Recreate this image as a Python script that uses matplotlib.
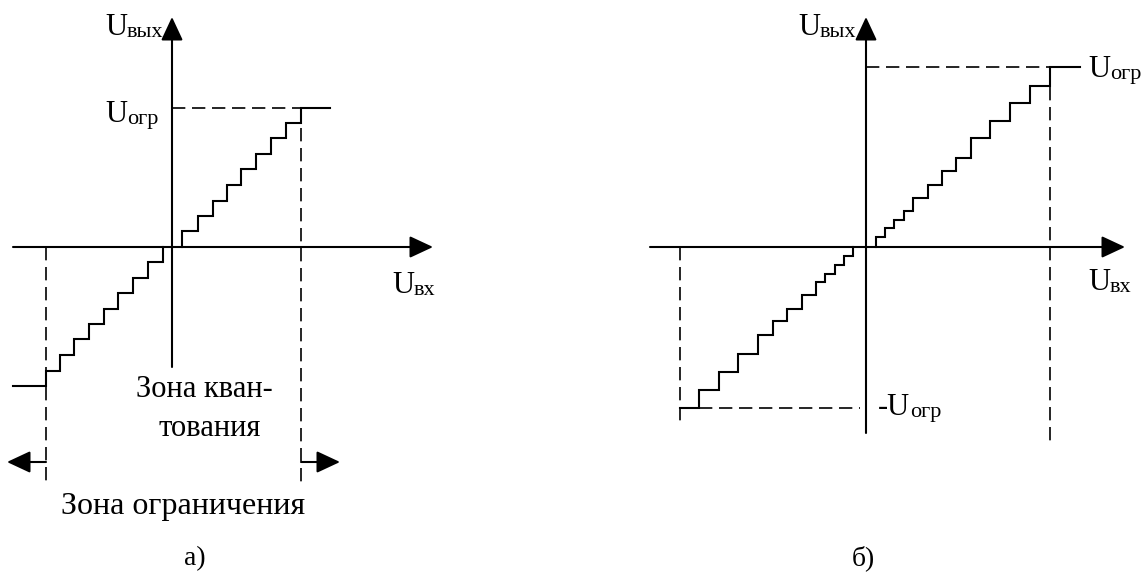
import matplotlib
matplotlib.use("Agg")
import matplotlib.pyplot as plt

plt.rcParams['font.family'] = ['Liberation Serif', 'DejaVu Serif']

# Quantiser transfer characteristics, units measured from the axes crossing.
# (а) uniform steps
a_pos_thresholds = [10, 26, 41, 55, 69, 84, 99, 114, 129]
a_pos_levels = [16, 31, 46, 62, 78, 93, 109, 124, 139]
a_neg_thresholds = [-9, -24, -39, -54, -68, -83, -98, -112, -126]
a_neg_levels = [-15, -31, -46, -62, -77, -92, -108, -124, -139]
a_sat_x = (158, -159)

# (б) non-uniform steps, fine near zero
b_pos_thresholds = [10, 19, 28, 38, 47, 62, 76, 90, 105, 124, 144, 164, 184]
b_pos_levels = [10, 19, 27, 36, 49, 62, 76, 89, 109, 126, 144, 161, 180]
b_neg_thresholds = [-13, -22, -31, -41, -50, -64, -79, -93, -108, -128, -147, -167]
b_neg_levels = [-9, -18, -27, -35, -48, -62, -74, -88, -107, -125, -143, -161]
b_sat_x = (214, -186)

LW = 1.5
DASH = dict(color='black', lw=1.2, linestyle=(0, (8, 4)))
HEAD = '-|>,head_length=0.9,head_width=0.42'


def staircase(thresholds, levels, x_end):
    xs, ys = [], []
    prev = 0
    for t, lv in zip(thresholds, levels):
        xs += [t, t]
        ys += [prev, lv]
        prev = lv
    xs.append(x_end)
    ys.append(prev)
    return xs, ys


def arrow(ax, start, tip):
    ax.annotate('', xy=tip, xytext=start,
                arrowprops=dict(arrowstyle=HEAD, mutation_scale=16, lw=LW,
                                color='black', shrinkA=0, shrinkB=0))


def sublabel(ax, x, y, main, sub, size=22, subsize=16):
    t = ax.text(x, y, main, fontsize=size, ha='left', va='baseline')
    ax.annotate(sub, xy=(1, 0), xycoords=t, fontsize=subsize,
                ha='left', va='bottom')


fig = plt.figure(figsize=(11.41, 5.76), dpi=100)
W, H = 1141, 576
ax_a = fig.add_axes([0, 0, 570 / W, 1])
ax_b = fig.add_axes([570 / W, 0, 571 / W, 1])
ax_a.set_xlim(-172, 398)
ax_b.set_xlim(-296, 275)
for ax in (ax_a, ax_b):
    ax.set_ylim(-329, 247)
    ax.axis('off')

# ---- (а) ----
ax = ax_a
arrow(ax, (-159, 0), (261, 0))
arrow(ax, (0, -120), (0, 230))
for th, lv, xe in ((a_pos_thresholds, a_pos_levels, a_sat_x[0]),
                   (a_neg_thresholds, a_neg_levels, a_sat_x[1])):
    xs, ys = staircase(th, lv, xe)
    ax.plot(xs, ys, color='black', lw=LW, solid_joinstyle='miter')

u_lim = a_pos_levels[-1]
ax.plot([0, a_pos_thresholds[-1]], [u_lim, u_lim], **DASH)
ax.plot([a_pos_thresholds[-1]] * 2, [u_lim, -236], **DASH)
ax.plot([a_neg_thresholds[-1]] * 2, [0, -236], **DASH)
arrow(ax, (a_pos_thresholds[-1], -215), (168, -215))
arrow(ax, (a_neg_thresholds[-1], -215), (-165, -215))

sublabel(ax, -67, 212, 'U', 'вых')
sublabel(ax, -67, 125, 'U', 'огр')
sublabel(ax, 220, -46, 'U', 'вх')
ax.text(32, -150, 'Зона кван-', fontsize=22, ha='center', va='baseline')
ax.text(38, -189, 'тования', fontsize=22, ha='center', va='baseline')
ax.text(11, -267, 'Зона ограничения', fontsize=23, ha='center', va='baseline')
ax.text(23, -318, 'а)', fontsize=20, ha='center', va='baseline')

# ---- (б) ----
ax = ax_b
arrow(ax, (-216, 0), (259, 0))
arrow(ax, (0, -186), (0, 230))
for th, lv, xe in ((b_pos_thresholds, b_pos_levels, b_sat_x[0]),
                   (b_neg_thresholds, b_neg_levels, b_sat_x[1])):
    xs, ys = staircase(th, lv, xe)
    ax.plot(xs, ys, color='black', lw=LW, solid_joinstyle='miter')

u_top = b_pos_levels[-1]
u_bot = b_neg_levels[-1]
ax.plot([0, b_pos_thresholds[-1]], [u_top, u_top], **DASH)
ax.plot([b_pos_thresholds[-1]] * 2, [u_top, -198], **DASH)
ax.plot([b_sat_x[1]] * 2, [0, -178], **DASH)
ax.plot([b_neg_thresholds[-1], -6], [u_bot, u_bot], **DASH)

sublabel(ax, -68, 212, 'U', 'вых')
sublabel(ax, 222, 170, 'U', 'огр')
sublabel(ax, 222, -43, 'U', 'вх')
sublabel(ax, 12, -168, '-U', 'огр')
ax.text(-3, -318, 'б)', fontsize=20, ha='center', va='baseline')

fig.savefig('out.png', dpi=100)
